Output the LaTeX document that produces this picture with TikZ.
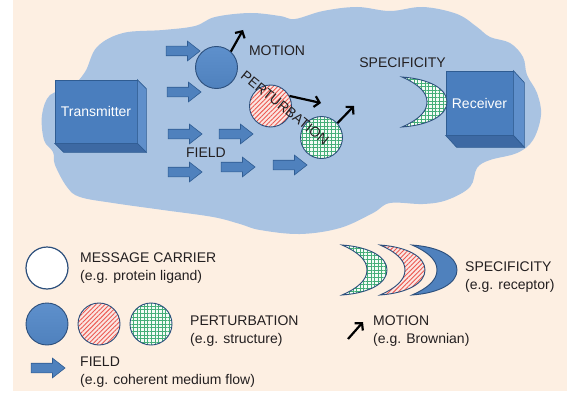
\documentclass[tikz,border=0pt]{standalone}
\usepackage{fontspec}
\setmainfont{Liberation Sans}
\usetikzlibrary{shapes.arrows,arrows.meta,patterns.meta,calc}
\definecolor{peach}{HTML}{FDEFE2}
\definecolor{cloudblue}{HTML}{A9C3E2}
\definecolor{boxfront}{HTML}{4A7EBE}
\definecolor{boxside}{HTML}{5F8FCB}
\definecolor{boxbottom}{HTML}{3D69A3}
\definecolor{boxline}{HTML}{2F5C92}
\definecolor{carrier}{HTML}{4F81BD}
\definecolor{carrierlight}{HTML}{5E90CC}
\definecolor{carrierline}{HTML}{2C4F7C}
\definecolor{hatchred}{HTML}{EC5A52}
\definecolor{pinkbase}{HTML}{FBE6E2}
\definecolor{gridgreen}{HTML}{45AE78}
\definecolor{greenbase}{HTML}{F4FBF6}
\definecolor{textgray}{HTML}{231F20}
\newcommand{\crescentpath}{(0,0) .. controls (28,2) and (45,12) .. (45,25) .. controls (45,38) and (28,48) .. (0,50) .. controls (16,43) and (25,35) .. (25,25) .. controls (25,15) and (16,7) .. cycle}
\tikzset{
  redfill/.style={preaction={fill=pinkbase}, pattern={Lines[angle=45, distance=3.2pt, line width=0.9pt]}, pattern color=hatchred},
  greenfill/.style={preaction={fill=greenbase},
     preaction={pattern={Lines[angle=0, distance=3.6pt, line width=0.5pt]}, pattern color=gridgreen},
     pattern={Lines[angle=90, distance=3.6pt, line width=0.5pt]}, pattern color=gridgreen},
  ball/.style={circle, minimum size=42pt, inner sep=0pt, draw=carrierline, line width=0.9pt},
  blueball/.style={ball, top color=carrierlight, bottom color=carrier},
  redball/.style={ball, redfill},
  greenball/.style={ball, greenfill},
  whiteball/.style={ball, fill=white, line width=1.2pt},
  fieldarrow/.style={single arrow, draw=boxline, fill=carrier, minimum height=34pt, minimum width=19pt,
     inner sep=4.5pt, single arrow head extend=5pt, single arrow tip angle=76, line width=0.6pt},
  motion/.style={line width=2.2pt, black, -{Straight Barb[length=5pt,width=11pt]}},
  boxface/.style={draw=boxline, fill=boxfront, line width=0.7pt, text=white, inner sep=0pt},
  sideface/.style={draw=boxline, fill=boxside, line width=0.7pt},
  bottomface/.style={draw=boxline, fill=boxbottom, line width=0.7pt},
  label/.style={text=textgray, inner sep=0pt},
  legendtext/.style={label, anchor=west, align=left},
  crescentblue/.style={draw=carrierline, line width=0.9pt, fill=carrier},
  crescentred/.style={draw=carrierline, line width=0.9pt, redfill},
  crescentgreen/.style={draw=carrierline, line width=0.9pt, greenfill},
}
\begin{document}
\begin{tikzpicture}[x=1pt, y=-1pt, font=\fontsize{14}{18}\selectfont]
\useasboundingbox (0,0) rectangle (567,396);
\fill[peach] (13,0) rectangle (567,391);
% cloud
\fill[cloudblue] plot[smooth cycle, tension=0.6] coordinates {
 (85,72) (97,47) (123,33) (163,30) (195,26) (215,17) (250,13) (280,16) (295,19) (323,11) (357,7) (390,11)
 (423,7) (457,14) (477,27) (490,37) (510,43) (523,57) (527,75) (537,93) (541,115) (533,140) (517,153)
 (490,160) (477,168) (470,187) (447,200) (423,204) (390,203) (373,213) (340,228) (300,234) (260,230)
 (240,224) (213,217) (163,210) (113,203) (80,197) (67,187) (55,165) (53,152) (44,140) (42,115) (50,95) (70,88)};
% transmitter box
\node[boxface, minimum width=82pt, minimum height=63pt] (tx) at (96,111.5) {Transmitter};
\draw[sideface] (tx.north east) -- ++(9,9) -- ($(tx.south east)+(9,9)$) -- (tx.south east) -- cycle;
\draw[bottomface] (tx.south west) -- (tx.south east) -- ++(9,9) -- ($(tx.south west)+(9,9)$) -- cycle;
% receiver box
\node[boxface, minimum width=67pt, minimum height=64pt] (rx) at (479.5,103) {Receiver};
\draw[sideface] (rx.north east) -- ++(11,12) -- ($(rx.south east)+(11,12)$) -- (rx.south east) -- cycle;
\draw[bottomface] (rx.south west) -- (rx.south east) -- ++(11,12) -- ($(rx.south west)+(11,12)$) -- cycle;
% receptor crescent
\path[crescentgreen, shift={(402,77)}] \crescentpath;
% field arrows
\node[fieldarrow] (f1) at (180,51) {};
\node[fieldarrow] (f2) at (181,92) {};
\node[fieldarrow] (f3) at (182,134) {};
\node[fieldarrow] (f4) at (233,134) {};
\node[fieldarrow] (f5) at (182,172) {};
\node[fieldarrow] (f6) at (235,167) {};
\node[fieldarrow] (f7) at (287,165) {};
% carriers
\node[blueball] (c1) at (216.5,67.5) {};
\node[redball] (c2) at (270.5,106) {};
\node[greenball] (c3) at (321.5,137.5) {};
% motion arrows
\coordinate (m1) at (243,30);
\coordinate (m2) at (321,103);
\coordinate (m3) at (354,106);
\draw[motion] (c1.48) -- (m1);
\draw[motion] (c2.28) -- (m2);
\draw[motion] (c3.42) -- (m3);
% labels in cloud
\node[label] (lmotion) at (277,51) {MOTION};
\node[label, rotate=-39] (lpert) at (285,108) {PERTURBATION};
\node[label] (lfield) at (206,153) {FIELD};
\node[label] (lspec) at (402.5,62.5) {SPECIFICITY};
% legend
\node[whiteball] (lg1) at (47,268) {};
\node[legendtext] (lt1) at (80,268) {MESSAGE CARRIER\\(e.g. protein ligand)};
\node[blueball] (lg2) at (47,324) {};
\node[redball] (lg3) at (99,324) {};
\node[greenball] (lg4) at (151,324) {};
\node[legendtext] (lt2) at (190,331) {PERTURBATION\\(e.g. structure)};
\node[fieldarrow] (lg5) at (45,368) {};
\node[legendtext] (lt3) at (80,372) {FIELD\\(e.g. coherent medium flow)};
\path[crescentgreen, shift={(342,245)}] \crescentpath;
\path[crescentred, shift={(380,245)}] \crescentpath;
\path[crescentblue, shift={(412,245)}] \crescentpath;
\node[legendtext] (lt4) at (465,277) {SPECIFICITY\\(e.g. receptor)};
\coordinate (lm0) at (348,339);
\coordinate (lm1) at (363,322);
\draw[motion] (lm0) -- (lm1);
\node[legendtext] (lt5) at (373,331) {MOTION\\(e.g. Brownian)};
\end{tikzpicture}
\end{document}
